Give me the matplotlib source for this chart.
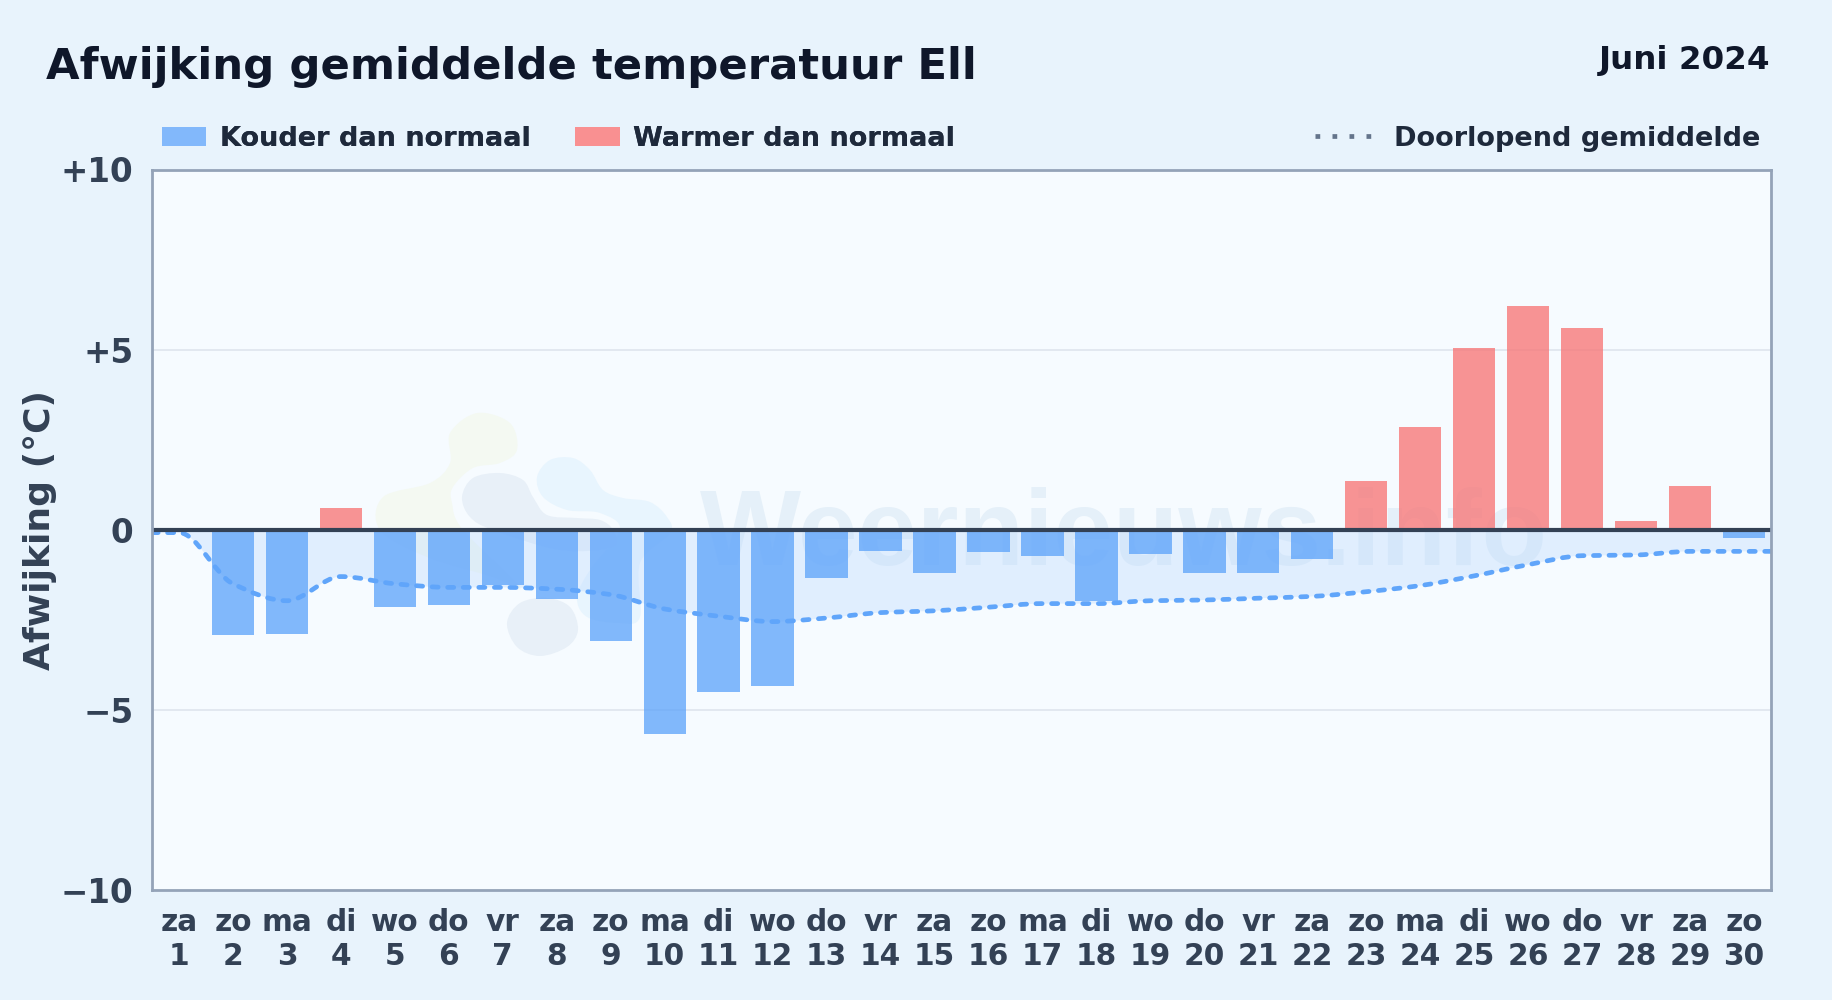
import numpy as np
import matplotlib
matplotlib.use("Agg")
import matplotlib.pyplot as plt
from matplotlib.path import Path
from matplotlib.patches import PathPatch, Patch
from matplotlib.lines import Line2D

title = "Afwijking gemiddelde temperatuur Ell"
period = "Juni 2024"
ylabel = "Afwijking (°C)"
weekdays = ["za","zo","ma","di","wo","do","vr","za","zo","ma","di","wo","do","vr","za",
            "zo","ma","di","wo","do","vr","za","zo","ma","di","wo","do","vr","za","zo"]
days = list(range(1, 31))
anomaly = [-0.06,-2.92,-2.89,0.6,-2.15,-2.09,-1.52,-1.92,-3.09,-5.66,-4.5,-4.33,-1.34,-0.59,-1.2,
           -0.63,-0.72,-1.98,-0.67,-1.2,-1.2,-0.82,1.35,2.85,5.05,6.2,5.6,0.25,1.22,-0.22]
running = [-0.08,-1.5,-1.97,-1.3,-1.5,-1.6,-1.6,-1.65,-1.8,-2.2,-2.4,-2.55,-2.45,-2.3,-2.25,
           -2.15,-2.05,-2.05,-1.97,-1.95,-1.9,-1.85,-1.72,-1.55,-1.28,-0.97,-0.72,-0.7,-0.6,-0.6]
yticks = [10, 5, 0, -5, -10]
ytick_labels = ["+10", "+5", "0", "\u22125", "\u221210"]

BG, PANEL = "#e8f3fc", "#f6fbff"
BLUE, RED, LINE = "#60a5fa", "#f87171", "#60a5fa"
DARK, SLATE, SPINE = "#0f172a", "#334155", "#94a3b8"
W, H = 1832, 1000
plt.rcParams["font.family"] = "DejaVu Sans"
plt.rcParams["font.weight"] = "bold"

fig = plt.figure(figsize=(W/100, H/100), dpi=100, facecolor=BG)
ax = fig.add_axes([152/W, 1-890/H, (1771-152)/W, (890-169.5)/H], facecolor=PANEL)

def smooth_verts(xs, ys):
    xs, ys = np.asarray(xs, float), np.asarray(ys, float)
    d = (ys[1:]-ys[:-1])/(xs[1:]-xs[:-1])
    m = np.zeros_like(ys)
    m[0], m[-1] = d[0], d[-1]
    for i in range(1, len(ys)-1):
        m[i] = 0 if d[i-1]*d[i] <= 0 else 2*d[i-1]*d[i]/(d[i-1]+d[i])
    v = [(xs[0], ys[0])]
    c = [Path.MOVETO]
    for i in range(len(xs)-1):
        h = xs[i+1]-xs[i]
        v += [(xs[i]+h/3, ys[i]+m[i]*h/3), (xs[i+1]-h/3, ys[i+1]-m[i+1]*h/3), (xs[i+1], ys[i+1])]
        c += [Path.CURVE4]*3
    return v, c

def blob(points, color):
    p = np.array(points, float)
    n = len(p)
    v = [tuple(p[0])]
    c = [Path.MOVETO]
    for i in range(n):
        p0, p1, p2, p3 = p[i-1], p[i], p[(i+1) % n], p[(i+2) % n]
        v += [tuple(p1+(p2-p0)/6), tuple(p2-(p3-p1)/6), tuple(p2)]
        c += [Path.CURVE4]*3
    v = [(x/W, 1-y/H) for x, y in v]
    ax.add_patch(PathPatch(Path(v, c), transform=fig.transFigure, fc=color, ec="none", zorder=1, clip_on=True))

# watermark
blob([(383,497),(430,483),(450,463),(450,433),(477,413),(510,423),(517,450),(500,463),(473,468),
      (453,487),(452,503),(463,530),(520,587),(493,577),(427,557),(380,530)], "#f4f9f2")
blob([(537,477),(550,460),(573,458),(590,470),(603,490),(623,498),(650,502),(667,517),(670,533),
      (640,563),(640,617),(620,623),(587,617),(577,597),(590,570),(620,530),(600,513),(567,510),(543,497)], "#e8f5fe")
blob([(462,497),(473,478),(500,473),(523,480),(533,497),(547,515),(577,518),(600,520),(613,530),
      (613,547),(560,550),(493,530),(470,517)], "#e8f0f8")
blob([(507,623),(520,603),(547,598),(570,607),(578,630),(567,647),(540,656),(517,647)], "#e8f0f8")
ax.text(700/W, 1-565/H, "Weernieuws.info", transform=fig.transFigure, color="#e5f0f9", fontsize=77,
        family="Liberation Sans", weight="bold", ha="left", va="baseline", zorder=1, clip_on=True)

ax.set_xlim(0.5, 30.5)
ax.set_ylim(-10, 10)
for y in (5, -5):
    ax.axhline(y, color="#e2e8f0", lw=1.4, zorder=2)

v, c = smooth_verts([0.5]+days+[30.5], [running[0]]+running+[running[-1]])
fv = v + [(30.5, 0), (0.5, 0), v[0]]
fc = c + [Path.LINETO, Path.LINETO, Path.CLOSEPOLY]
ax.add_patch(PathPatch(Path(fv, fc), fc="#bfdbfe", ec="none", alpha=0.4, zorder=2.5))

colors = [RED if a > 0 else BLUE for a in anomaly]
alphas = [0.75 if a > 0 else 0.78 for a in anomaly]
bars = ax.bar(days, anomaly, width=0.785, color=colors, zorder=3)
for b, al in zip(bars, alphas):
    b.set_alpha(al)

ax.add_patch(PathPatch(Path(v, c), fc="none", ec=LINE, lw=3.4, linestyle=(0, (1.3, 2.0)),
                       capstyle="round", zorder=4))
ax.axhline(0, color=SLATE, lw=3, zorder=5)

ax.set_yticks(yticks, ytick_labels)
ax.set_xticks(days, [f"{w}\n{d}" for w, d in zip(weekdays, days)], linespacing=1.22)
ax.tick_params(axis="y", length=0, pad=13.5, labelsize=23.5, labelcolor=SLATE)
ax.tick_params(axis="x", length=0, pad=13, labelsize=21.3, labelcolor=SLATE)
for s in ax.spines.values():
    s.set_color(SPINE)
    s.set_linewidth(2)
    s.set_zorder(6)
fig.text(40/W, 1-530/H, ylabel, rotation=90, ha="center", va="center", fontsize=26, color=SLATE)
fig.text(46/W, 1-67/H, title, ha="left", va="center", fontsize=31.2, color=DARK)
fig.text(1770/W, 1-61/H, period, ha="right", va="center", fontsize=23.4, color=DARK)

lg_kw = dict(frameon=False, fontsize=19.55, labelcolor="#1e293b", borderpad=0, borderaxespad=0)
lg1 = fig.legend(handles=[Patch(fc="#82b8fb", label="Kouder dan normaal"),
                          Patch(fc="#f99091", label="Warmer dan normaal")],
                 loc="center left", bbox_to_anchor=(162/W, 1-139/H), ncol=2,
                 handlelength=1.63, handleheight=0.7, handletextpad=0.5, columnspacing=1.65, **lg_kw)
lg2 = fig.legend(handles=[Line2D([], [], color="#64748b", lw=3.4, linestyle=(0, (1, 2.6)), label="Doorlopend gemiddelde")],
                 loc="center right", bbox_to_anchor=(1760/W, 1-139/H),
                 handlelength=2.2, handletextpad=0.7, **lg_kw)
fig.add_artist(lg1)
fig.savefig("out.png", dpi=100, facecolor=BG)
